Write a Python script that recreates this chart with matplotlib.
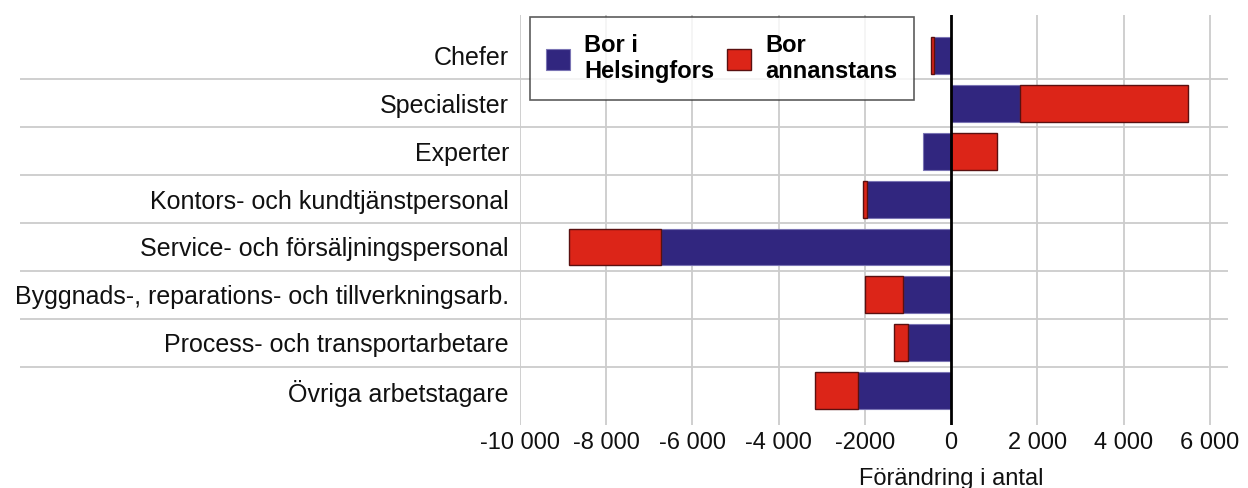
import numpy as np
import matplotlib
matplotlib.use("Agg")
import matplotlib.pyplot as plt

# Kategorier och värden (förändring i antal)
kategorier = [
    "Chefer",
    "Specialister",
    "Experter",
    "Kontors- och kundtjänstpersonal",
    "Service- och försäljningspersonal",
    "Byggnads-, reparations- och tillverkningsarb.",
    "Process- och transportarbetare",
    "Övriga arbetstagare",
]
bor_helsingfors = [-400, 1600, -650, -1950, -6730, -1120, -1010, -2150]
bor_annanstans = [-60, 3890, 1060, -90, -2140, -870, -320, -1000]

xticks = [-10000, -8000, -6000, -4000, -2000, 0, 2000, 4000, 6000]
xticklabels = ["-10 000", "-8 000", "-6 000", "-4 000", "-2000", "0", "2 000", "4 000", "6 000"]

navy = "#31267f"
red = "#dc2518"
grid = "#cccccc"

plt.rcParams["font.family"] = ["Liberation Sans", "DejaVu Sans"]

fig = plt.figure(figsize=(12.48, 4.88), dpi=100)
ax = fig.add_axes([520 / 1248, 1 - 425 / 488, 708 / 1248, 410 / 488])

y = np.arange(len(kategorier))
hel = np.array(bor_helsingfors)
ann = np.array(bor_annanstans)
# röda staplar startar där de blå slutar om samma tecken, annars från 0
start = np.where(np.sign(ann) == np.sign(hel), hel, 0)

ax.barh(y, hel, height=0.77, color=navy, edgecolor="#7a74b4", linewidth=0.8,
        label="Bor i\nHelsingfors", zorder=3)
ax.barh(y, ann, left=start, height=0.77, color=red, edgecolor="#5a1010", linewidth=1.0,
        label="Bor\nannanstans", zorder=3)

ax.set_xlim(-10000, 6420)
ax.set_ylim(7.72, -0.846)

# rutnät
for xt in xticks:
    if xt == 0:
        ax.axvline(0, color="black", lw=2, zorder=4)
    else:
        ax.axvline(xt, color=grid, lw=1.3, zorder=1)
ax.hlines(y[:-1] + 0.5, -0.706, 1.0, transform=ax.get_yaxis_transform(),
          color=grid, lw=1.3, clip_on=False, zorder=1)

for s in ax.spines.values():
    s.set_visible(False)

ax.set_yticks(y)
ax.set_yticklabels(kategorier, fontsize=18, color="#111111")
ax.set_xticks(xticks)
ax.set_xticklabels(xticklabels, fontsize=17, color="#111111")
ax.tick_params(axis="both", length=0)
ax.tick_params(axis="y", pad=8)
ax.tick_params(axis="x", pad=5)

ax.text(0, -0.105, "Förändring i antal", transform=ax.get_xaxis_transform(),
        ha="center", va="top", fontsize=17, color="#111111")

leg = ax.legend(loc="upper left", bbox_to_anchor=(0.014, 0.995), ncol=2,
                frameon=True, fancybox=False, borderaxespad=0,
                prop={"weight": "bold", "size": 17},
                handlelength=1.0, handleheight=1.0, columnspacing=0.55,
                borderpad=0.7, handletextpad=0.6)
leg.get_frame().set_edgecolor("#333333")
leg.get_frame().set_linewidth(1.2)
leg.set_zorder(5)

fig.savefig("out.png", dpi=100)
